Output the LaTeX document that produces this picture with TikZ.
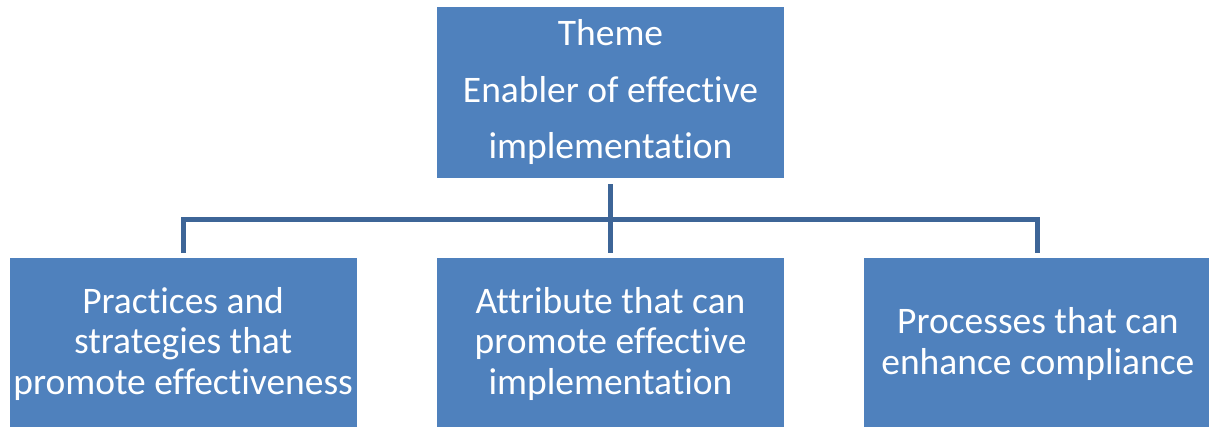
\documentclass[tikz,border=0pt]{standalone}
\usepackage{fontspec}
\setmainfont{Carlito}[Ligatures=NoCommon]
\usepackage{tikz}
\usetikzlibrary{positioning}
\definecolor{boxblue}{HTML}{4F81BD}
\definecolor{lineblue}{HTML}{3D6597}

\begin{document}
\begin{tikzpicture}[
  node distance=80pt and 80pt,
  mynode/.style={fill=boxblue,text=white,minimum width=347pt,minimum height=171pt,
    align=center,inner sep=0pt,font=\fontsize{37.5}{40.5}\selectfont},
  myline/.style={draw=lineblue,line width=5pt}
]
\useasboundingbox (0,0) rectangle (1209pt,-427pt);
\node[mynode,font=\fontsize{37.5}{56.5}\selectfont] (theme) at (610.5pt,-92.5pt) {Theme\\Enabler of effective\\implementation};
\node[mynode, below=of theme] (attr) {Attribute that can\\promote effective\\implementation};
\node[mynode, left=of attr] (prac) {Practices and\\strategies that\\promote effectiveness};
\node[mynode, right=of attr] (proc) {Processes that can\\enhance compliance};
\draw[myline] ([yshift=-6pt]theme.south) -- ([yshift=5pt]attr.north);
\draw[myline] ([yshift=5pt]prac.north) -- ++(0,34pt) -| ([yshift=5pt]proc.north);
\end{tikzpicture}
\end{document}
